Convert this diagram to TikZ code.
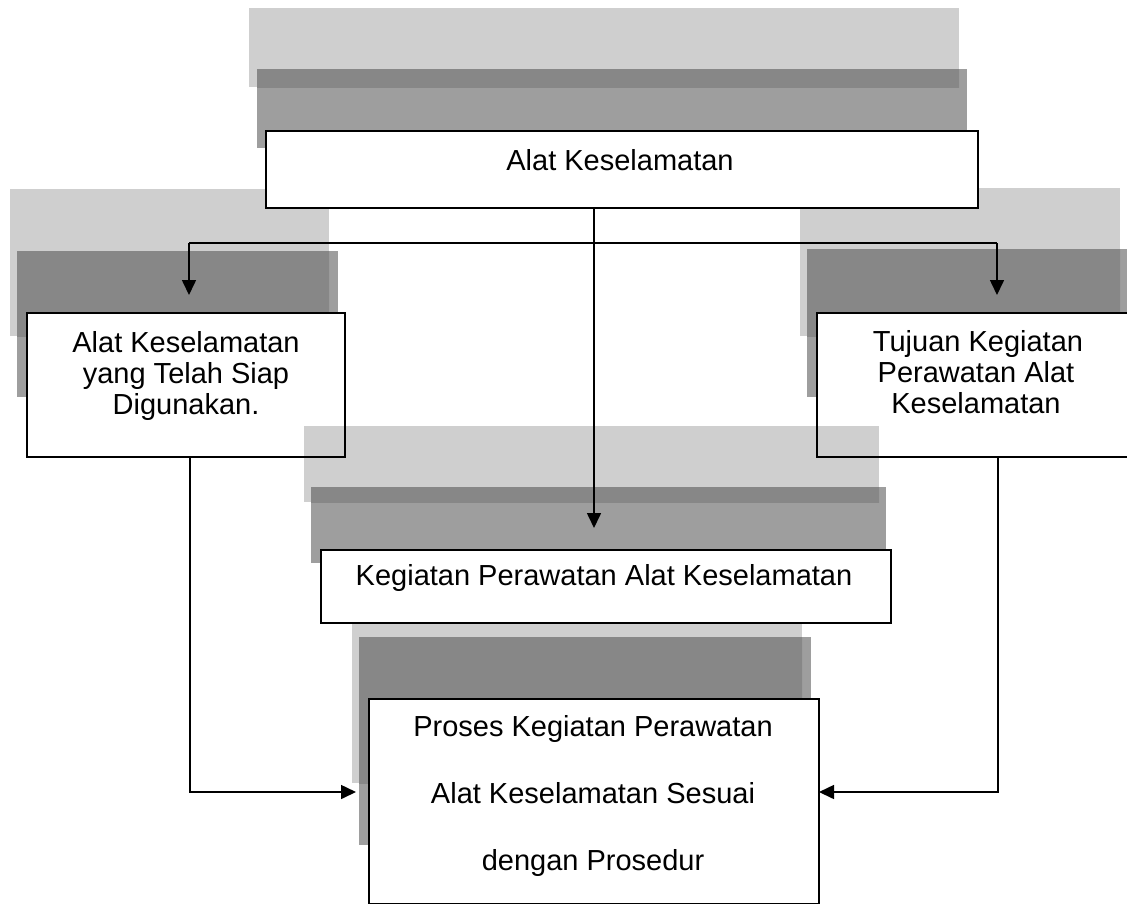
\documentclass[tikz,border=0pt]{standalone}
\usepackage{fontspec}
\setmainfont{Liberation Sans}
\usetikzlibrary{arrows.meta}
\definecolor{shlight}{HTML}{CFCFCF}
\definecolor{shdark}{HTML}{9E9E9E}
\definecolor{shover}{HTML}{878787}
\newcommand\shadowpair[8]{%
  \fill[shlight] (#1,#2) rectangle (#3,#4);
  \fill[shdark] (#5,#6) rectangle (#7,#8);
  \begin{scope}
    \clip (#1,#2) rectangle (#3,#4);
    \fill[shover] (#5,#6) rectangle (#7,#8);
  \end{scope}}
\tikzset{
  boxfill/.style={fill=white, inner sep=0pt, outer sep=0pt},
  boxline/.style={draw=black, line width=2pt},
  lbl/.style={anchor=base, inner sep=0pt, font=\fontsize{29}{31}\selectfont},
  conn/.style={draw=black, line width=1.6pt},
  arr/.style={conn, -{Triangle[length=15pt,width=14pt]}},
}
\begin{document}
\begin{tikzpicture}[x=1pt, y=-1pt]
\useasboundingbox (0,0) rectangle (1127,903);
\clip (0,0) rectangle (1127,903);
% shadows of top, left and right boxes
\shadowpair{249}{8}{959}{87}{257}{69}{967}{148}
\shadowpair{10}{189}{329}{336}{17}{251}{338}{397}
\shadowpair{800}{188}{1120}{336}{807}{249}{1128}{397}
% box fills
\node[boxfill, minimum width=712pt, minimum height=77pt] (top) at (622,169.5) {};
\node[boxfill, minimum width=318pt, minimum height=144pt] (lbox) at (186,385) {};
\node[boxfill, minimum width=319pt, minimum height=144pt] (rbox) at (976.5,385) {};
% shadows of middle and bottom boxes
\shadowpair{304}{426}{879}{502}{311}{487}{886}{563}
\shadowpair{352}{576}{802}{783}{359}{637}{811}{845}
\node[boxfill, minimum width=570pt, minimum height=73pt] (mbox) at (606,586.5) {};
\node[boxfill, minimum width=450pt, minimum height=205pt] (bbox) at (594,801.5) {};
% box borders
\foreach \b in {top,lbox,rbox,mbox,bbox}{
  \draw[boxline] (\b.south west) rectangle (\b.north east);
}
% texts
\node[lbl] (t1) at (620,170) {Alat Keselamatan};
\node[lbl] (l1) at (186,352) {Alat Keselamatan};
\node[lbl] (l2) at (186,383) {yang Telah Siap};
\node[lbl] (l3) at (186,414) {Digunakan.};
\node[lbl] (r1) at (978,351) {Tujuan Kegiatan};
\node[lbl] (r2) at (976,382) {Perawatan Alat};
\node[lbl] (r3) at (976,413) {Keselamatan};
\node[lbl] (m1) at (604,585) {Kegiatan Perawatan Alat Keselamatan};
\node[lbl] (b1) at (593,736) {Proses Kegiatan Perawatan};
\node[lbl] (b2) at (593,803) {Alat Keselamatan Sesuai};
\node[lbl] (b3) at (593,870) {dengan Prosedur};
% connector points
\coordinate (tipm) at (594,528);
\coordinate (hl) at (189,243);
\coordinate (hr) at (997,243);
\coordinate (tipl) at (189,295);
\coordinate (tipr) at (997,295);
\coordinate (lb) at (190,792);
\coordinate (rb) at (998,792);
\coordinate (tipbl) at (356,792);
% connectors
\draw[arr] (tipm |- top.south) -- (tipm);
\draw[conn] (hl) -- (hr);
\draw[arr] (hl) -- (tipl);
\draw[arr] (hr) -- (tipr);
\draw[arr] (lb |- lbox.south) -- (lb) -- (tipbl);
\draw[arr] (rb |- rbox.south) -- (rb) -- (bbox.east |- rb);
\end{tikzpicture}
\end{document}
